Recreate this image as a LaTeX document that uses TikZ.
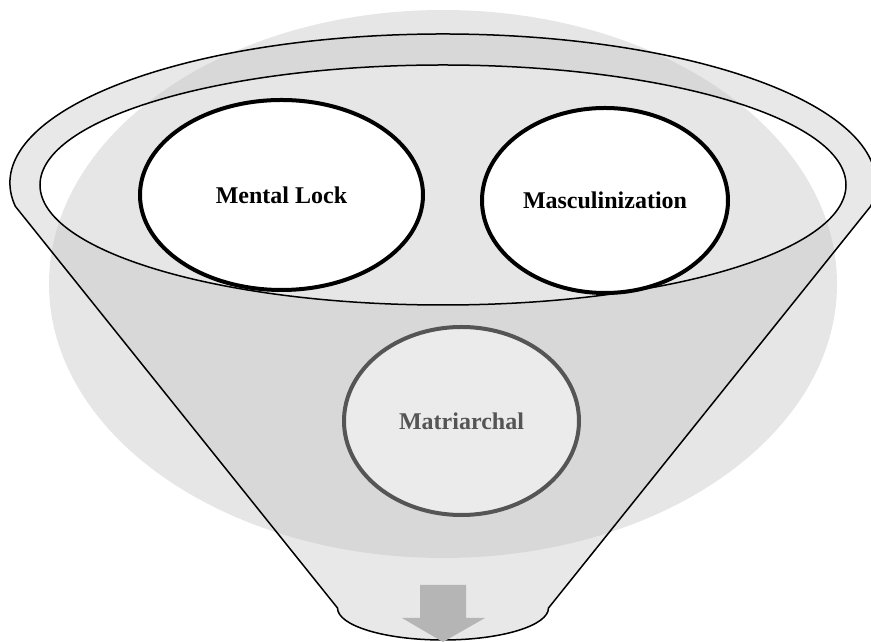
\documentclass[tikz,border=0pt]{standalone}
\usepackage{fontspec}
\setmainfont{Liberation Serif}
\usetikzlibrary{shapes.geometric}
\definecolor{bgdisc}{gray}{0.902}
\definecolor{funnelgray}{gray}{0.773}
\definecolor{mgray}{gray}{0.333}
\definecolor{mfill}{gray}{0.922}
\definecolor{arrowgray}{gray}{0.71}
\tikzset{
  bubble/.style={ellipse, draw=black, line width=4pt, fill=white, inner sep=0pt,
    font=\fontsize{24}{28}\selectfont\bfseries, text=black},
  softbubble/.style={bubble, draw=mgray, fill=mfill, text=mgray},
  outline/.style={draw=black, line width=1.5pt},
}
\begin{document}
\begin{tikzpicture}[x=1pt,y=1pt]
\useasboundingbox (0,0) rectangle (871,642);
\clip (0,0) rectangle (871,642);
% background disc
\fill[bgdisc] (443,358) ellipse [x radius=394, y radius=274];
% funnel body with the open mouth as a hole
\coordinate (fl) at (15.3,435.7);
\coordinate (fr) at (870.7,435.7);
\coordinate (bl) at (337.5,34);
\coordinate (br) at (548.5,34);
\fill[funnelgray, fill opacity=0.4, even odd rule]
  (fl) arc[start angle=189, end angle=-9, x radius=433, y radius=149]
  -- (br) arc[start angle=0, end angle=-180, x radius=105.5, y radius=32]
  -- cycle
  (443,457) ellipse [x radius=403, y radius=120];
\draw[outline, line join=round]
  (fl) arc[start angle=189, end angle=-9, x radius=433, y radius=149]
  -- (br) arc[start angle=0, end angle=-180, x radius=105.5, y radius=32]
  -- cycle;
\draw[outline] (443,457) ellipse [x radius=403, y radius=120];
% circles
\node[bubble, minimum width=283pt, minimum height=190pt] (ml) at (281.5,447) {Mental Lock};
\node[bubble, minimum width=246pt, minimum height=185pt] (ma) at (605,441.5) {Masculinization};
\node[softbubble, minimum width=235pt, minimum height=188pt] (mt) at (461.5,221) {Matriarchal};
% down arrow
\fill[arrowgray] (420,57) -- (466,57) -- (466,24) -- (485,24) -- (443,0) -- (402,24) -- (420,24) -- cycle;
\end{tikzpicture}
\end{document}
